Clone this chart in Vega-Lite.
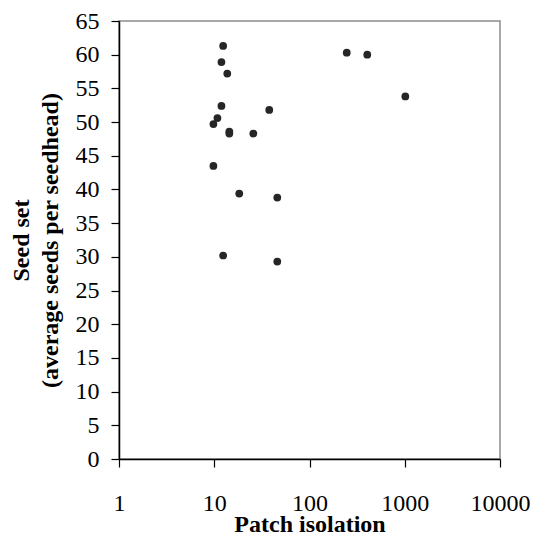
{
  "$schema": "https://vega.github.io/schema/vega-lite/v6.json",
  "autosize": {"type": "none"},
  "padding": {"left": 119, "top": 21, "right": 35, "bottom": 78},
  "width": 381,
  "height": 438,
  "background": "white",
  "config": {
    "view": {"stroke": "#8c8c8c", "strokeWidth": 1.5},
    "font": "Liberation Serif",
    "axis": {
      "grid": false,
      "domainColor": "black",
      "domainWidth": 1.5,
      "tickColor": "black",
      "tickWidth": 1.2,
      "tickSize": 8,
      "labelColor": "black",
      "labelFont": "Liberation Serif",
      "labelFontSize": 24,
      "titleFont": "Liberation Serif",
      "titleFontWeight": "bold",
      "titleColor": "black"
    }
  },
  "data": {
    "values": [
      {"isolation": 12.4, "seedset": 61.3},
      {"isolation": 11.9, "seedset": 58.9},
      {"isolation": 13.7, "seedset": 57.2},
      {"isolation": 11.9, "seedset": 52.4},
      {"isolation": 10.8, "seedset": 50.6},
      {"isolation": 9.8, "seedset": 49.7},
      {"isolation": 14.4, "seedset": 48.6},
      {"isolation": 14.4, "seedset": 48.3},
      {"isolation": 25.7, "seedset": 48.3},
      {"isolation": 37.8, "seedset": 51.8},
      {"isolation": 9.8, "seedset": 43.5},
      {"isolation": 18.3, "seedset": 39.4},
      {"isolation": 45.9, "seedset": 38.8},
      {"isolation": 246, "seedset": 60.3},
      {"isolation": 404, "seedset": 60.0},
      {"isolation": 1014, "seedset": 53.8},
      {"isolation": 12.4, "seedset": 30.2},
      {"isolation": 45.9, "seedset": 29.3}
    ]
  },
  "mark": {"type": "circle", "size": 60, "color": "#262626", "opacity": 1},
  "encoding": {
    "x": {
      "field": "isolation",
      "type": "quantitative",
      "scale": {"type": "log", "domain": [1, 10000], "nice": false},
      "axis": {"values": [1, 10, 100, 1000, 10000], "format": "d", "labelPadding": 24, "title": "Patch isolation", "titleFontSize": 24, "titlePadding": -3, "labelFlush": false}
    },
    "y": {
      "field": "seedset",
      "type": "quantitative",
      "scale": {"domain": [0, 65], "nice": false},
      "axis": {"values": [0, 5, 10, 15, 20, 25, 30, 35, 40, 45, 50, 55, 60, 65], "labelPadding": 12, "title": ["Seed set", "(average seeds per seedhead)"], "titleFontSize": 24, "titlePadding": 13, "titleLineHeight": 29}
    }
  }
}
